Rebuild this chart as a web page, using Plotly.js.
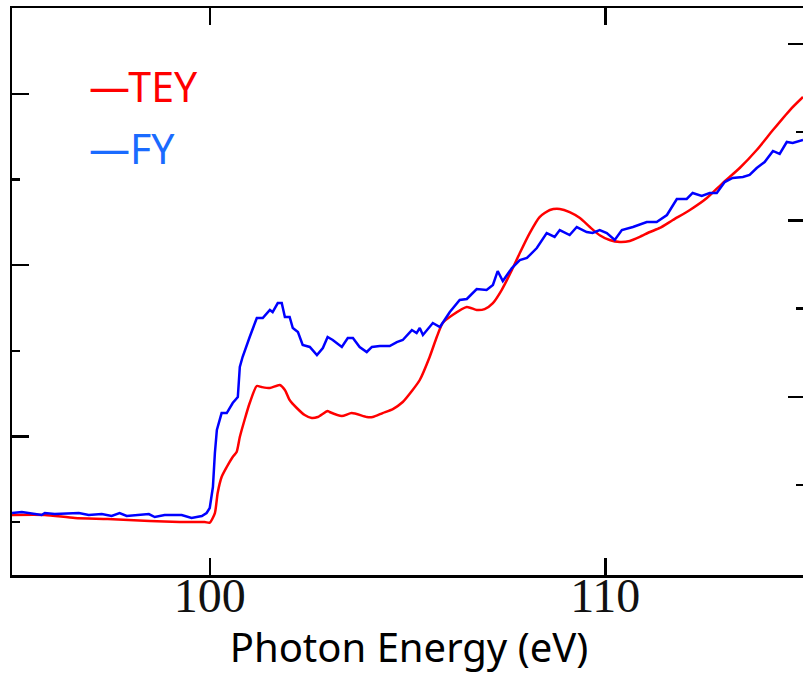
<!DOCTYPE html>
<html>
<head>
<meta charset="utf-8">
<script src="https://cdn.plot.ly/plotly-3.0.1.min.js"></script>
<style>
html,body{margin:0;padding:0;background:#fff;overflow:hidden;}
#chart{width:810px;height:674px;}
</style>
</head>
<body>
<div id="chart"></div>
<script>
// TEY (left axis, arb. units)
var teyE = [95.0,95.83,96.59,97.42,98.48,99.24,99.87,100.0,100.13,100.2,100.3,100.43,100.58,100.68,100.76,100.88,101.01,101.19,101.31,101.52,101.77,101.9,102.02,102.2,102.4,102.58,102.73,102.98,103.03,103.34,103.59,103.97,104.12,104.37,104.63,104.88,105.13,105.31,105.56,105.74,105.89,106.14,106.5,106.75,106.95,107.16,107.38,107.64,107.84,108.09,108.34,108.6,108.85,109.1,109.36,109.61,109.86,110.11,110.37,110.62,110.87,111.13,111.38,111.71,112.14,112.57,112.97,113.4,113.83,114.24,114.67,115.0];
var teyI = [1.082,1.082,1.047,1.035,1.012,1.0,1.0,0.992,1.105,1.339,1.526,1.643,1.76,1.818,1.993,2.192,2.39,2.589,2.577,2.565,2.6,2.542,2.425,2.332,2.25,2.215,2.227,2.297,2.285,2.238,2.273,2.227,2.227,2.273,2.32,2.402,2.542,2.659,2.928,3.161,3.325,3.418,3.512,3.477,3.488,3.558,3.71,3.944,4.143,4.376,4.563,4.645,4.657,4.621,4.551,4.446,4.35,4.294,4.271,4.283,4.33,4.388,4.435,4.528,4.645,4.785,4.96,5.136,5.346,5.579,5.813,5.965];

// FY (right axis, arb. units)
var fyE = [95.0,95.25,95.75,95.83,96.08,96.69,96.94,97.27,97.52,97.72,97.9,98.2,98.46,98.61,98.86,99.29,99.54,99.8,99.92,100.0,100.08,100.13,100.18,100.3,100.43,100.58,100.71,100.76,100.83,101.01,101.19,101.34,101.52,101.59,101.72,101.82,101.9,102.02,102.1,102.23,102.35,102.53,102.71,102.86,102.98,103.11,103.34,103.49,103.62,103.79,103.97,104.1,104.3,104.55,104.73,104.88,105.11,105.23,105.31,105.39,105.64,105.82,105.99,106.07,106.32,106.5,106.75,107.0,107.16,107.28,107.41,107.64,107.84,108.02,108.27,108.52,108.72,108.85,109.1,109.28,109.53,109.68,109.86,110.04,110.24,110.42,110.7,111.05,111.3,111.56,111.81,112.06,112.21,112.44,112.64,112.82,113.02,113.22,113.48,113.65,113.83,114.03,114.24,114.41,114.59,114.74,115.0];
var fyI = [0.683,0.694,0.66,0.683,0.671,0.683,0.66,0.671,0.649,0.683,0.649,0.66,0.671,0.637,0.66,0.66,0.626,0.649,0.683,0.739,0.977,1.363,1.624,1.816,1.816,1.93,1.998,2.338,2.451,2.678,2.893,2.893,2.984,2.961,3.063,3.063,2.905,2.905,2.78,2.735,2.587,2.565,2.474,2.553,2.678,2.644,2.565,2.667,2.667,2.565,2.508,2.565,2.576,2.576,2.621,2.644,2.757,2.723,2.78,2.701,2.837,2.791,2.916,2.961,3.098,3.109,3.222,3.211,3.268,3.426,3.313,3.46,3.551,3.574,3.687,3.857,3.812,3.891,3.834,3.925,3.868,3.857,3.891,3.857,3.778,3.891,3.925,3.982,3.982,4.061,4.243,4.243,4.311,4.277,4.311,4.311,4.435,4.481,4.492,4.515,4.594,4.662,4.787,4.753,4.889,4.878,4.912];

var xTicks = [100, 110];
var xTickText = ['100', '110'];
var yMajor = [2, 4, 6];
var yMinor = [1, 3, 5];
var seriesNames = ['TEY', 'FY'];

var traces = [
  {x: teyE, y: teyI, name: seriesNames[0], type: 'scatter', mode: 'lines',
   line: {color: '#ff0000', width: 2.5, shape: 'spline', smoothing: 0.6}, yaxis: 'y'},
  {x: fyE, y: fyI, name: seriesNames[1], type: 'scatter', mode: 'lines',
   line: {color: '#0000ff', width: 2.5}, yaxis: 'y2'}
];

var layout = {
  width: 810, height: 674,
  margin: {l: 12, r: 4, t: 8, b: 99},
  paper_bgcolor: '#fff', plot_bgcolor: '#fff',
  showlegend: false,
  xaxis: {
    range: [95, 115.076], tickvals: xTicks, ticktext: xTickText,
    ticks: 'inside', ticklen: 17, tickwidth: 2.5, tickcolor: '#000',
    showline: true, linecolor: '#000', linewidth: 2.5, mirror: 'ticks',
    showgrid: false, zeroline: false,
    ticklabelstandoff: -23,
    tickfont: {family: 'Liberation Serif', size: 48, color: '#111'},
    title: {text: 'Photon Energy (eV)', font: {family: 'Noto Sans', size: 40, color: '#000'}, standoff: 0}
  },
  yaxis: {
    range: [0.381, 7.005], tickvals: yMajor, showticklabels: false,
    ticks: 'inside', ticklen: 17, tickwidth: 2.5, tickcolor: '#000',
    minor: {tickvals: yMinor, ticks: 'inside', ticklen: 8, tickwidth: 2.5, tickcolor: '#000'},
    showline: true, linecolor: '#000', linewidth: 2.5,
    showgrid: false, zeroline: false
  },
  yaxis2: {
    overlaying: 'y', side: 'right',
    range: [-0.02, 6.408], tickvals: yMajor, showticklabels: false,
    ticks: 'inside', ticklen: 18, tickwidth: 2.5, tickcolor: '#000',
    minor: {tickvals: yMinor, ticks: 'inside', ticklen: 10, tickwidth: 2.5, tickcolor: '#000'},
    showline: true, linecolor: '#000', linewidth: 2.5,
    showgrid: false, zeroline: false
  },
  annotations: [
    {xref: 'paper', yref: 'paper', x: 0.094, y: 0.862, xanchor: 'left', yanchor: 'middle',
     text: '—' + seriesNames[0], showarrow: false,
     font: {family: 'Noto Sans', size: 41, color: '#ff0000'}},
    {xref: 'paper', yref: 'paper', x: 0.094, y: 0.753, xanchor: 'left', yanchor: 'middle',
     text: '—' + seriesNames[1], showarrow: false,
     font: {family: 'Noto Sans', size: 41, color: '#1a6bff'}}
  ]
};

Plotly.newPlot('chart', traces, layout, {displayModeBar: false, staticPlot: true});
</script>
</body>
</html>
